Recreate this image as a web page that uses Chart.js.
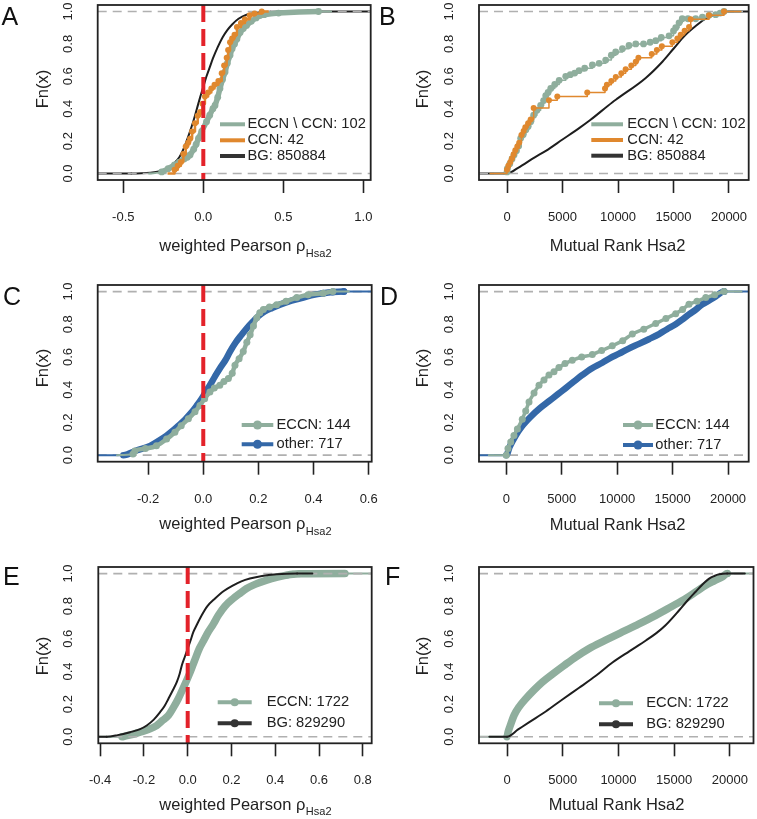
<!DOCTYPE html>
<html><head><meta charset="utf-8">
<script src="https://cdn.jsdelivr.net/npm/chart.js@4.4.1/dist/chart.umd.min.js"></script>
<style>
html,body{margin:0;padding:0;background:#fff;}
#wrap{position:relative;width:757px;height:819px;overflow:hidden;background:#fff;}
canvas{position:absolute;}
</style></head><body><div id="wrap">
<canvas id="cA" width="378" height="270" style="left:0px;top:0px"></canvas>
<canvas id="cB" width="379" height="270" style="left:378px;top:0px"></canvas>
<canvas id="cC" width="378" height="270" style="left:0px;top:270px"></canvas>
<canvas id="cD" width="379" height="270" style="left:378px;top:270px"></canvas>
<canvas id="cE" width="378" height="279" style="left:0px;top:540px"></canvas>
<canvas id="cF" width="379" height="279" style="left:378px;top:540px"></canvas>
</div>
<script>
// ================= DATA =================
// Panel A : weighted Pearson rho, ECDF
const A_ECCNnotCCN_x = [-0.26,-0.22,-0.18,-0.15,-0.12,-0.10,-0.083,-0.06,-0.045,-0.03,-0.01,0.02,0.04,0.06,0.073,0.09,0.104,0.12,0.136,0.15,0.167,0.18,0.195,0.21,0.23,0.25,0.27,0.30,0.33,0.354,0.38,0.47,0.72];
const A_ECCNnotCCN_y = [0.01,0.03,0.053,0.07,0.09,0.10,0.115,0.15,0.18,0.217,0.26,0.32,0.36,0.40,0.42,0.47,0.525,0.58,0.627,0.68,0.73,0.77,0.80,0.83,0.87,0.895,0.914,0.94,0.96,0.975,0.98,0.99,1.0];
const A_CCN_x = [-0.18,-0.16,-0.14,-0.125,-0.11,-0.095,-0.083,-0.07,-0.052,-0.035,-0.02,-0.005,0.01,0.03,0.05,0.07,0.094,0.115,0.13,0.146,0.155,0.167,0.18,0.195,0.21,0.235,0.26,0.29,0.32,0.365];
const A_CCN_y = [0.024,0.048,0.071,0.12,0.167,0.19,0.214,0.26,0.31,0.357,0.38,0.43,0.476,0.50,0.524,0.548,0.571,0.619,0.667,0.714,0.762,0.81,0.833,0.857,0.905,0.929,0.952,0.976,0.988,1.0];
const A_BG_x = [-0.45,-0.33,-0.27,-0.22,-0.18,-0.15,-0.12,-0.09,-0.06,-0.04,-0.02,0.0,0.02,0.04,0.06,0.09,0.12,0.15,0.18,0.22,0.27,0.33,0.42,0.55];
const A_BG_y = [0.0,0.005,0.015,0.035,0.065,0.10,0.16,0.24,0.33,0.40,0.47,0.535,0.60,0.655,0.71,0.78,0.84,0.885,0.92,0.955,0.98,0.993,0.999,1.0];

// Panel B : Mutual Rank, ECDF
const B_ECCNnotCCN_x = [0,30,250,450,630,850,1050,1230,1450,1700,1900,2130,2400,2700,3030,3300,3490,3700,3940,4300,4700,5290,5700,6100,6490,7000,7690,8300,8890,9400,9790,10400,10990,11600,12300,12900,13400,13900,14600,15000,15200,15500,15790,16300,17000,17600,18200,18800,19200,19550];
const B_ECCNnotCCN_y = [0.01,0.03,0.06,0.09,0.115,0.14,0.17,0.217,0.24,0.27,0.29,0.32,0.36,0.39,0.42,0.45,0.48,0.50,0.525,0.55,0.575,0.60,0.61,0.62,0.635,0.65,0.67,0.68,0.70,0.73,0.75,0.77,0.79,0.80,0.80,0.81,0.82,0.84,0.85,0.88,0.90,0.93,0.955,0.955,0.955,0.965,0.976,0.98,0.99,1.0];
const B_CCN_x = [0,120,300,450,600,750,930,1100,1300,1500,1650,1900,2130,2400,3780,4530,7230,8830,9000,9400,9800,10300,10690,11200,11600,11840,13040,13500,13950,14900,15350,15650,16000,16400,16550,18200,19550];
const B_CCN_y = [0.024,0.048,0.071,0.095,0.119,0.143,0.167,0.19,0.238,0.262,0.286,0.31,0.333,0.405,0.452,0.476,0.5,0.524,0.548,0.571,0.595,0.619,0.643,0.667,0.69,0.714,0.738,0.762,0.786,0.81,0.833,0.857,0.881,0.905,0.952,0.976,1.0];
const B_BG_x = [0,1000,2500,3500,5000,6500,7500,9500,10000,12500,14000,15000,16000,17000,18000,19000,19700];
const B_BG_y = [0,0.035,0.1,0.14,0.21,0.28,0.33,0.44,0.465,0.59,0.69,0.77,0.85,0.91,0.96,0.988,1.0];

// Panel C : weighted Pearson rho, ECDF
const C_ECCN_x = [-0.255,-0.248,-0.21,-0.17,-0.133,-0.103,-0.08,-0.054,-0.03,-0.012,0.005,0.024,0.04,0.06,0.075,0.091,0.105,0.115,0.13,0.145,0.158,0.17,0.182,0.194,0.205,0.218,0.24,0.266,0.30,0.339,0.38,0.435,0.47];
const C_ECCN_y = [0.007,0.025,0.04,0.057,0.098,0.14,0.18,0.222,0.265,0.304,0.345,0.386,0.41,0.428,0.45,0.469,0.50,0.55,0.59,0.633,0.69,0.736,0.79,0.84,0.87,0.89,0.905,0.92,0.94,0.963,0.98,0.99,1.0];
const C_other_x = [-0.29,-0.24,-0.193,-0.16,-0.133,-0.11,-0.09,-0.065,-0.042,-0.025,-0.006,0.01,0.024,0.042,0.06,0.08,0.097,0.118,0.139,0.16,0.181,0.2,0.224,0.25,0.278,0.32,0.363,0.40,0.435,0.47,0.51];
const C_other_y = [0.0,0.03,0.057,0.09,0.12,0.15,0.18,0.22,0.263,0.30,0.345,0.39,0.428,0.48,0.53,0.58,0.633,0.69,0.736,0.78,0.818,0.85,0.88,0.90,0.92,0.945,0.963,0.98,0.99,0.997,1.0];

// Panel D : Mutual Rank, ECDF
const D_ECCN_x = [0,150,400,690,1000,1440,1750,2050,2500,2950,3400,3850,4300,4750,5300,5950,6800,7760,8600,9560,10500,11370,12400,13480,14400,15280,15900,16480,17200,17990,18800,19640];
const D_ECCN_y = [0.0,0.04,0.08,0.12,0.16,0.22,0.27,0.325,0.38,0.428,0.46,0.49,0.51,0.535,0.56,0.58,0.60,0.615,0.64,0.668,0.70,0.74,0.77,0.805,0.835,0.865,0.89,0.922,0.94,0.963,0.98,1.0];
const D_other_x = [0,300,850,1400,2200,3000,3850,4600,5360,6100,6860,7700,8660,9400,10170,11000,11970,12900,13780,14500,15280,15900,16480,17100,17690,18300,18890,19640];
const D_other_y = [0.0,0.05,0.12,0.175,0.235,0.285,0.33,0.37,0.41,0.45,0.49,0.53,0.565,0.595,0.62,0.65,0.68,0.71,0.74,0.77,0.80,0.83,0.86,0.89,0.922,0.945,0.97,1.0];

// Panel E : weighted Pearson rho, ECDF
const E_ECCN_x = [-0.3,-0.286,-0.25,-0.218,-0.18,-0.142,-0.115,-0.088,-0.065,-0.043,-0.025,-0.008,0.008,0.023,0.038,0.053,0.073,0.094,0.117,0.14,0.17,0.208,0.24,0.269,0.31,0.361,0.41,0.452,0.48,0.51,0.718];
const E_ECCN_y = [0.0,0.004,0.015,0.028,0.045,0.069,0.10,0.131,0.18,0.233,0.285,0.335,0.385,0.437,0.49,0.54,0.59,0.642,0.69,0.744,0.80,0.847,0.88,0.908,0.935,0.96,0.978,0.99,0.996,0.998,1.0];
const E_BG_x = [-0.37,-0.32,-0.263,-0.22,-0.187,-0.155,-0.126,-0.105,-0.088,-0.068,-0.05,-0.037,-0.027,-0.013,0.0,0.013,0.026,0.045,0.064,0.09,0.125,0.165,0.208,0.245,0.284,0.34,0.406,0.5];
const E_BG_y = [0.0,0.01,0.028,0.045,0.069,0.105,0.151,0.19,0.233,0.285,0.335,0.385,0.437,0.49,0.54,0.59,0.642,0.695,0.744,0.80,0.847,0.893,0.928,0.952,0.969,0.985,0.995,1.0];

// Panel F : Mutual Rank, ECDF
const F_ECCN_x = [0,100,300,630,1100,1680,2400,3170,4100,5120,6200,7360,8800,10350,11800,13350,14700,16050,17000,17840,18600,19340,19760];
const F_ECCN_y = [0.0,0.03,0.07,0.131,0.185,0.233,0.285,0.335,0.385,0.437,0.49,0.54,0.59,0.642,0.69,0.744,0.795,0.847,0.89,0.928,0.955,0.98,1.0];
const F_BG_x = [0,1000,2000,3475,5000,6470,8000,9460,11000,12460,13400,14250,15450,16200,16950,17500,18140,18600,19040,19760];
const F_BG_y = [0.0,0.045,0.09,0.155,0.23,0.30,0.375,0.455,0.525,0.59,0.635,0.685,0.775,0.835,0.89,0.93,0.969,0.985,0.995,1.0];

// Tick labels / legend texts
const xTicksRhoA = [-0.5, 0.0, 0.5, 1.0];
const xTicksRhoC = [-0.2, 0.0, 0.2, 0.4, 0.6];
const xTicksRhoE = [-0.4, -0.2, 0.0, 0.2, 0.4, 0.6, 0.8];
const xTicksRank = [0, 5000, 10000, 15000, 20000];
const yTicksFn = [0.0, 0.2, 0.4, 0.6, 0.8, 1.0];
const legendAB = ['ECCN \\ CCN: 102', 'CCN: 42', 'BG: 850884'];
const legendCD = ['ECCN: 144', 'other: 717'];
const legendEF = ['ECCN: 1722', 'BG: 829290'];
const titleRho = 'weighted Pearson \u03C1';
const titleRhoSub = 'Hsa2';
const titleRank = 'Mutual Rank Hsa2';
const titleY = 'Fn(x)';

// ================= STYLE =================
const FONT = '"Liberation Sans", Arial, Helvetica, sans-serif';
const GREEN = '#8fae9d', ORANGE = '#e0882e', BLUE = '#3468a8', BLACK = '#1e1e1e', RED = '#e3222a', GRAY = '#b0b0b0', INK = '#222';
Chart.defaults.font.family = FONT;
Chart.defaults.color = INK;

// ECDF points plus R-style horizontal extensions (8% of own range, or whole axis for the first-plotted curve)
function ecdfPoints(xs, ys, xmin, xmax, full) {
  const dr = 0.08 * (xs[xs.length - 1] - xs[0]);
  const lo = full ? xmin : Math.max(xmin, xs[0] - dr);
  const hi = full ? xmax : Math.min(xmax, xs[xs.length - 1] + dr);
  const d = [{x: lo, y: 0}];
  xs.forEach((x, i) => d.push({x: x, y: ys[i]}));
  d.push({x: hi, y: 1});
  return d;
}
function dotted(xs, ys, xmin, xmax, full, color, r, lw) {
  const data = ecdfPoints(xs, ys, xmin, xmax, full);
  const last = data.length - 1;
  return { data, borderColor: color, backgroundColor: color, borderWidth: lw, stepped: 'before',
    pointRadius: data.map((_, i) => (i === 0 || i === last) ? 0 : r), pointBorderWidth: 0,
    pointHoverRadius: 0, clip: 0, borderJoinStyle: 'round' };
}
function band(xs, ys, xmin, xmax, full, color, lw, extW, r, tailDot) {
  const data = ecdfPoints(xs, ys, xmin, xmax, full);
  const last = data.length - 1;
  return { data, borderColor: color, backgroundColor: color, borderWidth: lw,
    pointRadius: data.map((p, i) => (i === 0 || i === last) ? 0 : (r || ((tailDot && p.y >= 0.99) ? tailDot : 0))), pointBorderWidth: 0,
    pointHoverRadius: 0, cubicInterpolationMode: 'monotone', clip: 0,
    borderJoinStyle: 'round', borderCapStyle: 'round',
    segment: { borderWidth: c => (c.p0DataIndex === 0 || (data[c.p0DataIndex].y >= 0.999 && data[c.p1DataIndex].y >= 0.999)) ? extW : undefined } };
}

const decor = {
  id: 'decor',
  beforeDatasetsDraw(chart, args, o) { if (o.grayAfter < 0) drawGray(chart); },
  afterDatasetDraw(chart, args, o) { if (args.index === o.grayAfter) drawGray(chart); },
  afterDatasetsDraw(chart, args, o) {
    if (!o.red) return;
    const ctx = chart.ctx, a = chart.chartArea, x = chart.scales.x.getPixelForValue(0);
    ctx.save(); ctx.beginPath(); ctx.rect(a.left, a.top, a.right - a.left, a.bottom - a.top); ctx.clip();
    ctx.strokeStyle = RED; ctx.lineWidth = 4; ctx.setLineDash([17, 7]); ctx.lineDashOffset = 0;
    ctx.beginPath(); ctx.moveTo(x, a.top); ctx.lineTo(x, a.bottom); ctx.stroke();
    ctx.restore();
  },
  afterDraw(chart, args, o) {
    const ctx = chart.ctx, a = chart.chartArea;
    ctx.save();
    ctx.strokeStyle = INK; ctx.lineWidth = 1.8; ctx.setLineDash([]);
    ctx.strokeRect(a.left, a.top, a.right - a.left, a.bottom - a.top);
    const L = o.legend;
    ctx.font = L.size + 'px ' + FONT; ctx.textBaseline = 'middle'; ctx.textAlign = 'left';
    L.items.forEach((it, i) => {
      const y = L.rows[i];
      ctx.strokeStyle = it.color; ctx.lineWidth = 4; ctx.lineCap = 'butt';
      ctx.beginPath(); ctx.moveTo(L.x1, y); ctx.lineTo(L.x2, y); ctx.stroke();
      if (L.dot) { ctx.fillStyle = it.color; ctx.beginPath(); ctx.arc((L.x1 + L.x2) / 2, y, L.dot, 0, Math.PI * 2); ctx.fill(); }
      ctx.fillStyle = INK; ctx.fillText(it.text, L.tx, y);
    });
    ctx.font = '25px ' + FONT; ctx.textBaseline = 'alphabetic'; ctx.fillStyle = '#111';
    ctx.fillText(o.letter.t, o.letter.x, o.letter.y);
    ctx.font = '16.5px ' + FONT; ctx.fillStyle = INK; ctx.textBaseline = 'middle'; ctx.textAlign = 'center';
    ctx.save(); ctx.translate(o.ytitle.x, o.ytitle.y); ctx.rotate(-Math.PI / 2); ctx.fillText(titleY, 0, 0); ctx.restore();
    ctx.textAlign = 'left'; ctx.textBaseline = 'middle';
    ctx.font = '16.5px ' + FONT;
    ctx.fillText(o.xtitle.text, o.xtitle.x, o.xtitle.y);
    if (o.xtitle.sub) {
      const w = ctx.measureText(o.xtitle.text).width;
      ctx.font = '11px ' + FONT;
      ctx.fillText(o.xtitle.sub, o.xtitle.x + w + 0.5, o.xtitle.y + 7);
    }
    ctx.restore();
  }
};
function drawGray(chart) {
  const ctx = chart.ctx, a = chart.chartArea, ys = chart.scales.y;
  ctx.save(); ctx.beginPath(); ctx.rect(a.left, a.top, a.right - a.left, a.bottom - a.top); ctx.clip();
  ctx.strokeStyle = GRAY; ctx.lineWidth = 1.7; ctx.setLineDash([9, 6]);
  [0, 1].forEach(v => { const y = ys.getPixelForValue(v); ctx.beginPath(); ctx.moveTo(a.left, y); ctx.lineTo(a.right, y); ctx.stroke(); });
  ctx.restore();
}

function makeChart(p) {
  const [L, T, R, B] = p.box;
  const yW = L, xH = p.h - B;
  const fmt = p.rank ? (v => String(Math.round(v))) : (v => Number(v).toFixed(1));
  return new Chart(document.getElementById(p.id), {
    type: 'line',
    data: { datasets: p.datasets },
    plugins: [decor],
    options: {
      responsive: false, animation: false, devicePixelRatio: 1,
      events: [],
      layout: { padding: { left: 0, top: T, right: p.w - R, bottom: 0 } },
      plugins: { legend: { display: false }, tooltip: { enabled: false },
        decor: { grayAfter: p.grayAfter, red: p.red, legend: p.legend, letter: p.letter, ytitle: p.ytitle, xtitle: p.xtitle } },
      scales: {
        x: { type: 'linear', min: p.xmin, max: p.xmax,
          afterBuildTicks: s => { s.ticks = p.xticks.map(v => ({ value: v })); },
          ticks: { callback: fmt, font: { size: 13 }, color: INK, padding: p.xpad, autoSkip: false, minRotation: 0, maxRotation: 0 },
          grid: { display: true, drawOnChartArea: false, drawTicks: true, tickLength: 13, tickColor: INK, tickWidth: 1.6, color: INK },
          border: { display: false },
          afterFit: s => { s.height = xH; s.paddingLeft = 0; s.paddingRight = 0; } },
        y: { type: 'linear', min: -0.04, max: 1.04,
          afterBuildTicks: s => { s.ticks = yTicksFn.map(v => ({ value: v })); },
          ticks: { callback: v => Number(v).toFixed(1), font: { size: 13 }, color: INK, padding: p.ypad, minRotation: 90, maxRotation: 90, crossAlign: 'center', autoSkip: false },
          grid: { display: false, drawTicks: false, tickLength: 0 }, border: { display: false },
          afterFit: s => { s.width = yW; s.paddingTop = 0; s.paddingBottom = 0; } }
      }
    }
  });
}

// ---------- Panel A ----------
const A_min = -0.66, A_max = 1.046;
makeChart({ id: 'cA', w: 378, h: 270, box: [97.7, 5, 370.7, 180], xmin: A_min, xmax: A_max, xticks: xTicksRhoA, xpad: 16.2, ypad: 20.7,
  datasets: [
    dotted(A_CCN_x, A_CCN_y, A_min, A_max, false, ORANGE, 3, 2.5),
    band(A_ECCNnotCCN_x, A_ECCNnotCCN_y, A_min, A_max, false, GREEN, 5.5, 2, 3.4),
    band(A_BG_x, A_BG_y, A_min, A_max, true, BLACK, 2, 2, 0)
  ], grayAfter: 2, red: true,
  legend: { size: 14.7, x1: 220, x2: 245, tx: 247.5, rows: [124.3, 140.3, 156], dot: 0,
    items: [{ text: legendAB[0], color: GREEN }, { text: legendAB[1], color: ORANGE }, { text: legendAB[2], color: '#333' }] },
  letter: { t: 'A', x: 1.5, y: 25 }, ytitle: { x: 43.5, y: 89 }, xtitle: { text: titleRho, sub: titleRhoSub, x: 159.3, y: 246.5 } });

// ---------- Panel B ----------
const B_min = -2523, B_max = 21775;
makeChart({ id: 'cB', w: 379, h: 270, box: [101, 5, 370.7, 180], xmin: B_min, xmax: B_max, xticks: xTicksRank, rank: true, xpad: 16.2, ypad: 21,
  datasets: [
    dotted(B_CCN_x, B_CCN_y, B_min, B_max, false, ORANGE, 3, 1.5),
    dotted(B_ECCNnotCCN_x, B_ECCNnotCCN_y, B_min, B_max, false, GREEN, 3.4, 1.5),
    band(B_BG_x, B_BG_y, B_min, B_max, true, BLACK, 2, 2, 0)
  ], grayAfter: 2, red: false,
  legend: { size: 14.7, x1: 213.3, x2: 245, tx: 249.3, rows: [124.3, 140, 155.7], dot: 0,
    items: [{ text: legendAB[0], color: GREEN }, { text: legendAB[1], color: ORANGE }, { text: legendAB[2], color: '#333' }] },
  letter: { t: 'B', x: 1, y: 25 }, ytitle: { x: 45.7, y: 89 }, xtitle: { text: titleRank, x: 171.7, y: 246.5 } });

// ---------- Panel C ----------
const C_min = -0.383, C_max = 0.611;
makeChart({ id: 'cC', w: 378, h: 270, box: [97.7, 15, 371.7, 191.7], xmin: C_min, xmax: C_max, xticks: xTicksRhoC, xpad: 17, ypad: 20.7,
  datasets: [
    band(C_ECCN_x, C_ECCN_y, C_min, C_max, false, GREEN, 4.5, 2, 3.5),
    band(C_other_x, C_other_y, C_min, C_max, true, BLUE, 6.5, 2, 0, 3.5)
  ], grayAfter: -1, red: true,
  legend: { size: 14.7, x1: 241.7, x2: 273.3, tx: 276.5, rows: [155, 174.3], dot: 4.5,
    items: [{ text: legendCD[0], color: GREEN }, { text: legendCD[1], color: BLUE }] },
  letter: { t: 'C', x: 3, y: 35 }, ytitle: { x: 43.5, y: 98 }, xtitle: { text: titleRho, sub: titleRhoSub, x: 159.3, y: 254.5 } });

// ---------- Panel D ----------
const D_min = -2463, D_max = 21866;
makeChart({ id: 'cD', w: 379, h: 270, box: [101, 15, 370.7, 191.7], xmin: D_min, xmax: D_max, xticks: xTicksRank, rank: true, xpad: 17, ypad: 21,
  datasets: [
    band(D_ECCN_x, D_ECCN_y, D_min, D_max, false, GREEN, 3.5, 2, 3.5),
    band(D_other_x, D_other_y, D_min, D_max, true, BLUE, 6.5, 2, 0, 3.5)
  ], grayAfter: -1, red: false,
  legend: { size: 14.7, x1: 245, x2: 275, tx: 277.3, rows: [155, 175], dot: 4.5,
    items: [{ text: legendCD[0], color: GREEN }, { text: legendCD[1], color: BLUE }] },
  letter: { t: 'D', x: 2, y: 35 }, ytitle: { x: 45.7, y: 98 }, xtitle: { text: titleRank, x: 171.7, y: 255.5 } });

// ---------- Panel E ----------
const E_min = -0.4084, E_max = 0.8406;
makeChart({ id: 'cE', w: 378, h: 279, box: [98.3, 27, 371.7, 203.3], xmin: E_min, xmax: E_max, xticks: xTicksRhoE, xpad: 15.9, ypad: 20.7,
  datasets: [
    band(E_BG_x, E_BG_y, E_min, E_max, false, BLACK, 2, 2, 0),
    band(E_ECCN_x, E_ECCN_y, E_min, E_max, true, GREEN, 7.5, 2, 0, 3.5)
  ], grayAfter: 1, red: true,
  legend: { size: 14.7, x1: 217.7, x2: 251.7, tx: 266.7, rows: [162.3, 183.3], dot: 4,
    items: [{ text: legendEF[0], color: GREEN }, { text: legendEF[1], color: '#333' }] },
  letter: { t: 'E', x: 3, y: 45 }, ytitle: { x: 43.8, y: 116 }, xtitle: { text: titleRho, sub: titleRhoSub, x: 159.3, y: 265 } });

// ---------- Panel F ----------
const F_min = -2515, F_max = 22120;
makeChart({ id: 'cF', w: 379, h: 279, box: [101, 27, 375.5, 203.3], xmin: F_min, xmax: F_max, xticks: xTicksRank, rank: true, xpad: 15.9, ypad: 21,
  datasets: [
    band(F_BG_x, F_BG_y, F_min, F_max, false, BLACK, 2, 2, 0),
    band(F_ECCN_x, F_ECCN_y, F_min, F_max, true, GREEN, 7.5, 2, 0, 3.5)
  ], grayAfter: 1, red: false,
  legend: { size: 14.7, x1: 221, x2: 255, tx: 268.3, rows: [163.3, 184.3], dot: 4,
    items: [{ text: legendEF[0], color: GREEN }, { text: legendEF[1], color: '#333' }] },
  letter: { t: 'F', x: 7, y: 45 }, ytitle: { x: 45.7, y: 116 }, xtitle: { text: titleRank, x: 170.7, y: 265 } });
</script>
</body></html>
